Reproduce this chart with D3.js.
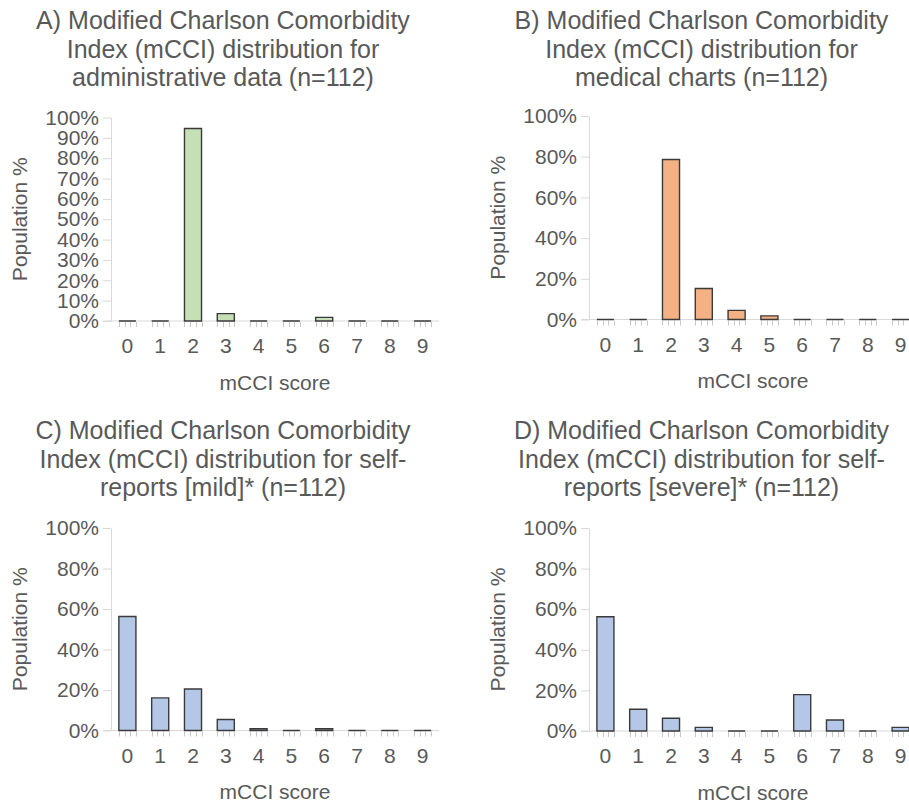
<!DOCTYPE html>
<html>
<head>
<meta charset="utf-8">
<script src="https://cdn.jsdelivr.net/npm/d3@7"></script>
<style>
  body { margin: 0; background: #fff; }
  text { font-family: "Liberation Sans", Arial, sans-serif; fill: #595959; }
</style>
</head>
<body>
<div id="chart"></div>
<script>

var categories = ["0", "1", "2", "3", "4", "5", "6", "7", "8", "9"];

// population % per mCCI score (n=112)
var adminValues  = [0, 0, 94.6, 3.6, 0, 0, 1.8, 0, 0, 0];
var chartValues  = [0, 0, 78.6, 15.2, 4.5, 1.8, 0, 0, 0, 0];
var mildValues   = [56.3, 16.1, 20.5, 5.4, 0.9, 0, 0.9, 0, 0, 0];
var severeValues = [56.3, 10.7, 6.3, 1.8, 0, 0, 17.9, 5.4, 0, 1.8];

var ticksTen    = [0, 10, 20, 30, 40, 50, 60, 70, 80, 90, 100];
var ticksTwenty = [0, 20, 40, 60, 80, 100];

var titleA = ["A) Modified Charlson Comorbidity", "Index (mCCI) distribution for", "administrative data (n=112)"];
var titleB = ["B) Modified Charlson Comorbidity", "Index (mCCI) distribution for", "medical charts (n=112)"];
var titleC = ["C) Modified Charlson Comorbidity", "Index (mCCI) distribution for self-", "reports [mild]* (n=112)"];
var titleD = ["D) Modified Charlson Comorbidity", "Index (mCCI) distribution for self-", "reports [severe]* (n=112)"];

var xLabel = "mCCI score";
var yLabel = "Population %";

var panels = [
  {values: adminValues,  ticks: ticksTen,    title: titleA, fill: "#c5e0b4", axisX: 111, yZero: 321,   yTop: 117.5, titleX: 223,   titleY: 29},
  {values: chartValues,  ticks: ticksTwenty, title: titleB, fill: "#f4b183", axisX: 589, yZero: 319.5, yTop: 116,   titleX: 701.5, titleY: 29},
  {values: mildValues,   ticks: ticksTwenty, title: titleC, fill: "#b4c7e7", axisX: 111, yZero: 730.5, yTop: 528,   titleX: 223,   titleY: 439},
  {values: severeValues, ticks: ticksTwenty, title: titleD, fill: "#b4c7e7", axisX: 589, yZero: 731,   yTop: 528,   titleX: 701.5, titleY: 439}
];

var plotWidth = 328;

var svg = d3.select("#chart")
  .append("svg")
    .attr("width", 909)
    .attr("height", 804);

panels.forEach(function(p) {
  var g = svg.append("g");

  var x = d3.scaleBand()
    .domain(categories)
    .range([p.axisX, p.axisX + plotWidth])
    .paddingInner(0.48)
    .paddingOuter(0.24);

  var y = d3.scaleLinear()
    .domain([0, 100])
    .range([p.yZero, p.yTop]);

  // title
  g.append("text")
    .attr("text-anchor", "middle")
    .style("font-size", "25px")
    .selectAll("tspan")
    .data(p.title)
    .enter().append("tspan")
      .attr("x", p.titleX)
      .attr("y", function(d, i) { return p.titleY + i * 28.5; })
      .text(function(d) { return d; });

  // y axis
  var yAxis = g.append("g")
    .attr("transform", "translate(" + p.axisX + ",0)")
    .call(d3.axisLeft(y).tickValues(p.ticks).tickSize(8).tickSizeOuter(0)
      .tickFormat(function(d) { return d + "%"; }));
  yAxis.select(".domain").attr("stroke", "#d9d9d9");
  yAxis.selectAll(".tick line").attr("stroke", "#d9d9d9");
  yAxis.selectAll(".tick text")
    .attr("x", -12)
    .style("font-size", "21px")
    .style("font-family", null)
    .attr("fill", "#595959");

  // x baseline
  g.append("line")
    .attr("x1", p.axisX - 8)
    .attr("x2", p.axisX + plotWidth)
    .attr("y1", y(0))
    .attr("y2", y(0))
    .attr("stroke", "#d9d9d9")
    .attr("stroke-width", 1);

  // little ticks under each category
  var bw = x.bandwidth();
  categories.forEach(function(c) {
    d3.range(4).forEach(function(k) {
      var tx = Math.round(x(c) + k * bw / 3) + 0.5;
      g.append("line")
        .attr("x1", tx).attr("x2", tx)
        .attr("y1", y(0) + 1).attr("y2", y(0) + 6)
        .attr("stroke", "#c8c8c8")
        .attr("stroke-width", 1);
    });
  });

  // x tick labels
  g.selectAll(".xlab")
    .data(categories)
    .enter().append("text")
      .attr("text-anchor", "middle")
      .style("font-size", "21px")
      .attr("x", function(d) { return x(d) + bw / 2; })
      .attr("y", y(0) + 32)
      .text(function(d) { return d; });

  // bars (path so zero values still show as a line)
  g.selectAll(".bar")
    .data(p.values)
    .enter().append("path")
      .attr("fill", p.fill)
      .attr("stroke", "#3a3a3a")
      .attr("stroke-width", 1.4)
      .attr("d", function(d, i) {
        var x0 = x(categories[i]), x1 = x0 + bw;
        return "M" + x0 + "," + y(0) + "V" + y(d) + "H" + x1 + "V" + y(0) + "Z";
      });

  // axis titles
  g.append("text")
    .attr("text-anchor", "middle")
    .style("font-size", "21px")
    .attr("x", p.axisX + plotWidth / 2)
    .attr("y", y(0) + 68.5)
    .text(xLabel);

  g.append("text")
    .attr("text-anchor", "middle")
    .style("font-size", "21px")
    .attr("transform", "translate(" + (p.axisX - 84) + "," + ((p.yZero + p.yTop) / 2) + ") rotate(-90)")
    .text(yLabel);
});

</script>
</body>
</html>
